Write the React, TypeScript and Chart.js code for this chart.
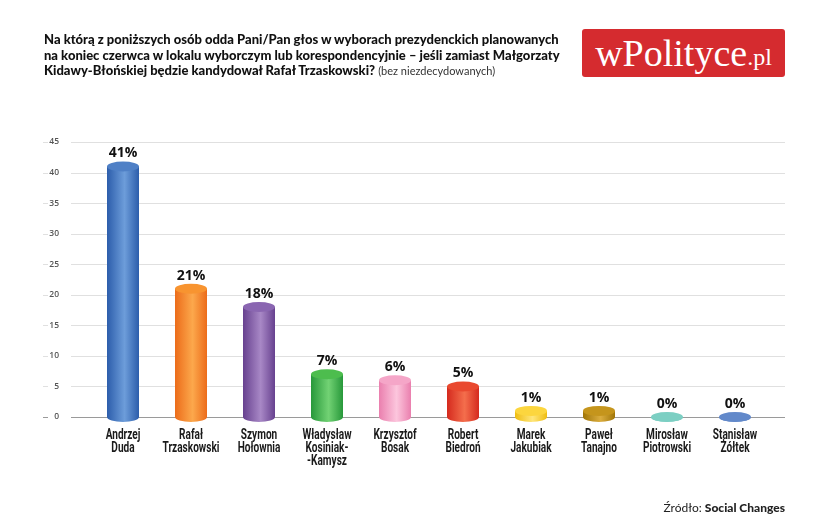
import React, { useEffect, useRef } from "react";
import { Chart, registerables } from "chart.js";

Chart.register(...registerables);

const categories: string[][] = [
  ["Andrzej", "Duda"],
  ["Rafał", "Trzaskowski"],
  ["Szymon", "Hołownia"],
  ["Władysław", "Kosiniak-", "-Kamysz"],
  ["Krzysztof", "Bosak"],
  ["Robert", "Biedroń"],
  ["Marek", "Jakubiak"],
  ["Paweł", "Tanajno"],
  ["Mirosław", "Piotrowski"],
  ["Stanisław", "Żółtek"],
];
const values: number[] = [41, 21, 18, 7, 6, 5, 1, 1, 0, 0];
const darkColors = ["#2c5dab", "#ec6c1a", "#67418f", "#27983a", "#ea7fae", "#d52a1e", "#efbd10", "#a17608", "#58b9ad", "#4770ba"];
const lightColors = ["#6d9dda", "#fca84c", "#a888c6", "#72d274", "#fcc6dd", "#f46e4c", "#ffe67a", "#dbad3e", "#92dacf", "#7c9cd6"];
const topColors = ["#4f80c6", "#f89430", "#8a66b1", "#4dbd4e", "#f5a6c8", "#e9492f", "#fcd63e", "#c5951c", "#7ccfc3", "#6289ca"];
const yTicks = { min: 0, max: 45, step: 5 };

const cylinderPlugin = {
  id: "cylinders",
  beforeDatasetsDraw(chart: any) {
    const { ctx, chartArea, scales } = chart;
    const y = scales.y;
    ctx.save();
    for (let v = yTicks.min; v <= yTicks.max; v += yTicks.step) {
      const py = Math.round(y.getPixelForValue(v)) + 0.5;
      ctx.strokeStyle = v === 0 ? "#9a9a9a" : "#e0e0e0";
      ctx.lineWidth = 1;
      ctx.beginPath();
      ctx.moveTo(43, py);
      ctx.lineTo(48, py);
      ctx.moveTo(71, py);
      ctx.lineTo(chartArea.right + 16, py);
      ctx.stroke();
    }
    ctx.restore();
  },
  afterDatasetsDraw(chart: any) {
    const { ctx, chartArea } = chart;
    const meta = chart.getDatasetMeta(0);
    const xs = chart.scales.x;
    ctx.save();
    meta.data.forEach((bar: any, i: number) => {
      const cx = bar.x;
      const top = bar.y;
      const base = bar.base;
      const rx = bar.width / 2;
      const ry = 5;
      const g = ctx.createLinearGradient(cx - rx, 0, cx + rx, 0);
      g.addColorStop(0, darkColors[i]);
      g.addColorStop(0.55, lightColors[i]);
      g.addColorStop(1, darkColors[i]);
      ctx.fillStyle = g;
      ctx.beginPath();
      ctx.moveTo(cx - rx, top);
      ctx.lineTo(cx - rx, base);
      ctx.ellipse(cx, base, rx, ry, 0, Math.PI, 0, true);
      ctx.lineTo(cx + rx, top);
      ctx.closePath();
      ctx.fill();
      ctx.fillStyle = topColors[i];
      ctx.beginPath();
      ctx.ellipse(cx, top, rx, ry, 0, 0, Math.PI * 2);
      ctx.fill();
      ctx.fillStyle = "#111";
      ctx.font = "bold 14px 'Open Sans', 'DejaVu Sans', sans-serif";
      ctx.textAlign = "center";
      ctx.textBaseline = "alphabetic";
      ctx.fillText(values[i] + "%", cx, top - 9);
    });
    // category labels, condensed
    ctx.fillStyle = "#1a1a1a";
    ctx.font = "bold 14px Roboto, sans-serif";
    ctx.textAlign = "center";
    ctx.textBaseline = "middle";
    categories.forEach((lines, i) => {
      const cx = xs.getPixelForTick(i);
      lines.forEach((ln, j) => {
        ctx.save();
        ctx.translate(cx, chartArea.bottom + 18 + j * 13);
        ctx.scale(0.72, 1);
        ctx.fillText(ln, 0, 0);
        ctx.restore();
      });
    });
    ctx.restore();
  },
};

export default function App() {
  const ref = useRef<HTMLCanvasElement>(null);
  useEffect(() => {
    document.body.style.margin = "0";
    const c = new Chart(ref.current!, {
      type: "bar",
      data: {
        labels: categories,
        datasets: [
          {
            data: values,
            backgroundColor: "rgba(0,0,0,0)",
            borderWidth: 0,
            barThickness: 32,
          },
        ],
      },
      options: {
        animation: false,
        responsive: false,
        maintainAspectRatio: false,
        layout: { padding: { left: 20, right: 61, top: 142, bottom: 40 } },
        plugins: { legend: { display: false }, tooltip: { enabled: false } },
        scales: {
          y: {
            min: yTicks.min,
            max: yTicks.max,
            ticks: {
              stepSize: yTicks.step,
              padding: 22,
              color: "#555",
              font: { family: "'Open Sans', sans-serif", size: 8.5, weight: "600" },
            },
            grid: { display: false },
            border: { display: false },
            afterFit(scale: any) {
              scale.width = 69;
            },
          },
          x: {
            grid: { display: false },
            border: { display: false },
            ticks: { display: false },
            afterFit(scale: any) {
              scale.height = 73;
            },
          },
        },
      },
      plugins: [cylinderPlugin],
    });
    return () => c.destroy();
  }, []);

  return (
    <div style={{ position: "relative", width: 830, height: 530, background: "#fff", overflow: "hidden" }}>
      <canvas ref={ref} width={830} height={530} style={{ position: "absolute", left: 0, top: 0 }} />
      <div
        style={{
          position: "absolute",
          left: 44,
          top: 32,
          width: 560,
          fontFamily: "Lato, 'Open Sans', sans-serif",
          fontWeight: 900,
          fontSize: 13,
          lineHeight: "15.5px",
          color: "#111",
          whiteSpace: "nowrap",
        }}
      >
        <div>Na którą z poniższych osób odda Pani/Pan głos w wyborach prezydenckich planowanych</div>
        <div>na koniec czerwca w lokalu wyborczym lub korespondencyjnie – jeśli zamiast Małgorzaty</div>
        <div>
          Kidawy-Błońskiej będzie kandydował Rafał Trzaskowski?{" "}
          <span style={{ fontWeight: 400, fontSize: 11, color: "#333" }}>(bez niezdecydowanych)</span>
        </div>
      </div>
      <div
        style={{
          position: "absolute",
          left: 582,
          top: 29,
          width: 203,
          height: 48,
          background: "#d52b2f",
          borderRadius: 3,
          color: "#fff",
          fontFamily: "'Liberation Serif', 'DejaVu Serif', serif",
          display: "flex",
          alignItems: "center",
          justifyContent: "center",
          whiteSpace: "nowrap",
        }}
      >
        <span style={{ fontSize: 38, lineHeight: "40px" }}>wPolityce</span>
        <span style={{ fontSize: 24, lineHeight: "40px", marginTop: 8 }}>.pl</span>
      </div>
      <div
        style={{
          position: "absolute",
          right: 45,
          top: 500,
          fontFamily: "Lato, 'Open Sans', sans-serif",
          fontSize: 12,
          color: "#222",
          whiteSpace: "nowrap",
        }}
      >
        Źródło: <span style={{ fontWeight: 900 }}>Social Changes</span>
      </div>
    </div>
  );
}
